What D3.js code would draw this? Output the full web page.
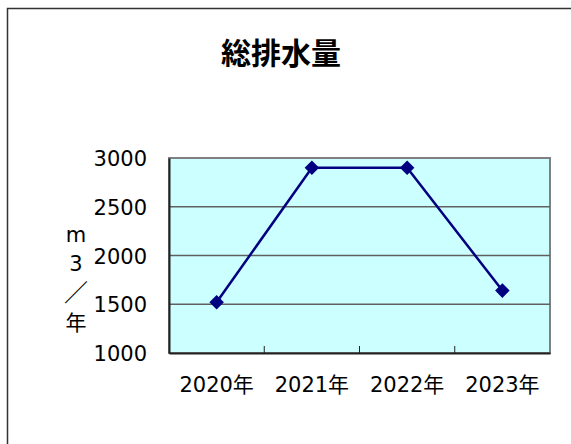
<!DOCTYPE html>
<html><head><meta charset="utf-8">
<script src="https://cdn.jsdelivr.net/npm/d3@7"></script>
<style>
html,body{margin:0;padding:0;background:#fff;}
svg{display:block;}
text{font-family:"DejaVu Sans","Noto Sans CJK JP",sans-serif;fill:#000;}
</style></head><body>
<svg id="chart" width="571" height="444"></svg>
<script>
const categories = ["2020年", "2021年", "2022年", "2023年"];
const values = [1520, 2900, 2900, 1640];
const yTicks = [1000, 1500, 2000, 2500, 3000];
const titleText = "総排水量";
const yAxisLabel = ["m", "3", "／", "年"];

const svg = d3.select("#chart");
const plot = {left: 169, right: 550, top: 158, bottom: 353};

// outer frame
svg.append("rect").attr("x", 7.5).attr("y", 8.5).attr("width", 600).attr("height", 500)
  .attr("fill", "#fff").attr("stroke", "#333").attr("stroke-width", 1.5);

const x = d3.scaleBand().domain(categories).range([plot.left, plot.right]).padding(0);
const y = d3.scaleLinear().domain([1000, 3000]).range([plot.bottom, plot.top]);

// plot area
svg.append("rect").attr("x", plot.left).attr("y", plot.top)
  .attr("width", plot.right - plot.left).attr("height", plot.bottom - plot.top)
  .attr("fill", "#CCFFFF").attr("stroke", "#808080").attr("stroke-width", 2);

// gridlines
svg.append("g").selectAll("line").data(yTicks.filter(d => d > 1000 && d < 3000)).join("line")
  .attr("x1", plot.left).attr("x2", plot.right)
  .attr("y1", d => y(d)).attr("y2", d => y(d))
  .attr("stroke", "#606060").attr("stroke-width", 1.5);

// axes
const yAxis = d3.axisLeft(y).tickValues(yTicks).tickSize(0).tickPadding(22).tickFormat(d3.format("d"));
const gy = svg.append("g").attr("transform", `translate(${plot.left},0)`).call(yAxis);
gy.select(".domain").attr("stroke", "#222").attr("stroke-width", 2);
gy.selectAll("text").attr("font-size", 21).attr("dy", "0.36em");

const xAxis = d3.axisBottom(x).tickSize(0).tickPadding(24);
const gx = svg.append("g").attr("transform", `translate(0,${plot.bottom})`).call(xAxis);
gx.select(".domain").attr("stroke", "#222").attr("stroke-width", 2);
gx.selectAll("text").attr("font-size", 21).attr("dy", "0.71em");
// boundary ticks between categories
svg.append("g").selectAll("line").data(categories.slice(1)).join("line")
  .attr("x1", d => x(d)).attr("x2", d => x(d))
  .attr("y1", plot.bottom).attr("y2", plot.bottom - 7)
  .attr("stroke", "#222").attr("stroke-width", 1);

// line
const cx = (d, i) => x(categories[i]) + x.bandwidth() / 2;
const line = d3.line().x(cx).y(d => y(d));
svg.append("path").datum(values).attr("d", line)
  .attr("fill", "none").attr("stroke", "#000080").attr("stroke-width", 2.5);

// markers
svg.append("g").selectAll("path").data(values).join("path")
  .attr("d", d3.symbol().type(d3.symbolDiamond2).size(135))
  .attr("transform", (d, i) => `translate(${cx(d, i)},${y(d)})`)
  .attr("fill", "#000080");

// title
svg.append("text").attr("x", 281).attr("y", 64).attr("text-anchor", "middle")
  .attr("font-size", 30).attr("font-weight", "bold").text(titleText);

// y axis label stacked
svg.append("g").selectAll("text").data(yAxisLabel).join("text")
  .attr("x", 76).attr("y", (d, i) => 242 + i * 29.3)
  .attr("text-anchor", "middle").attr("font-size", d => d === "／" ? 24 : 21)
  .text(d => d);
</script>
</body></html>
